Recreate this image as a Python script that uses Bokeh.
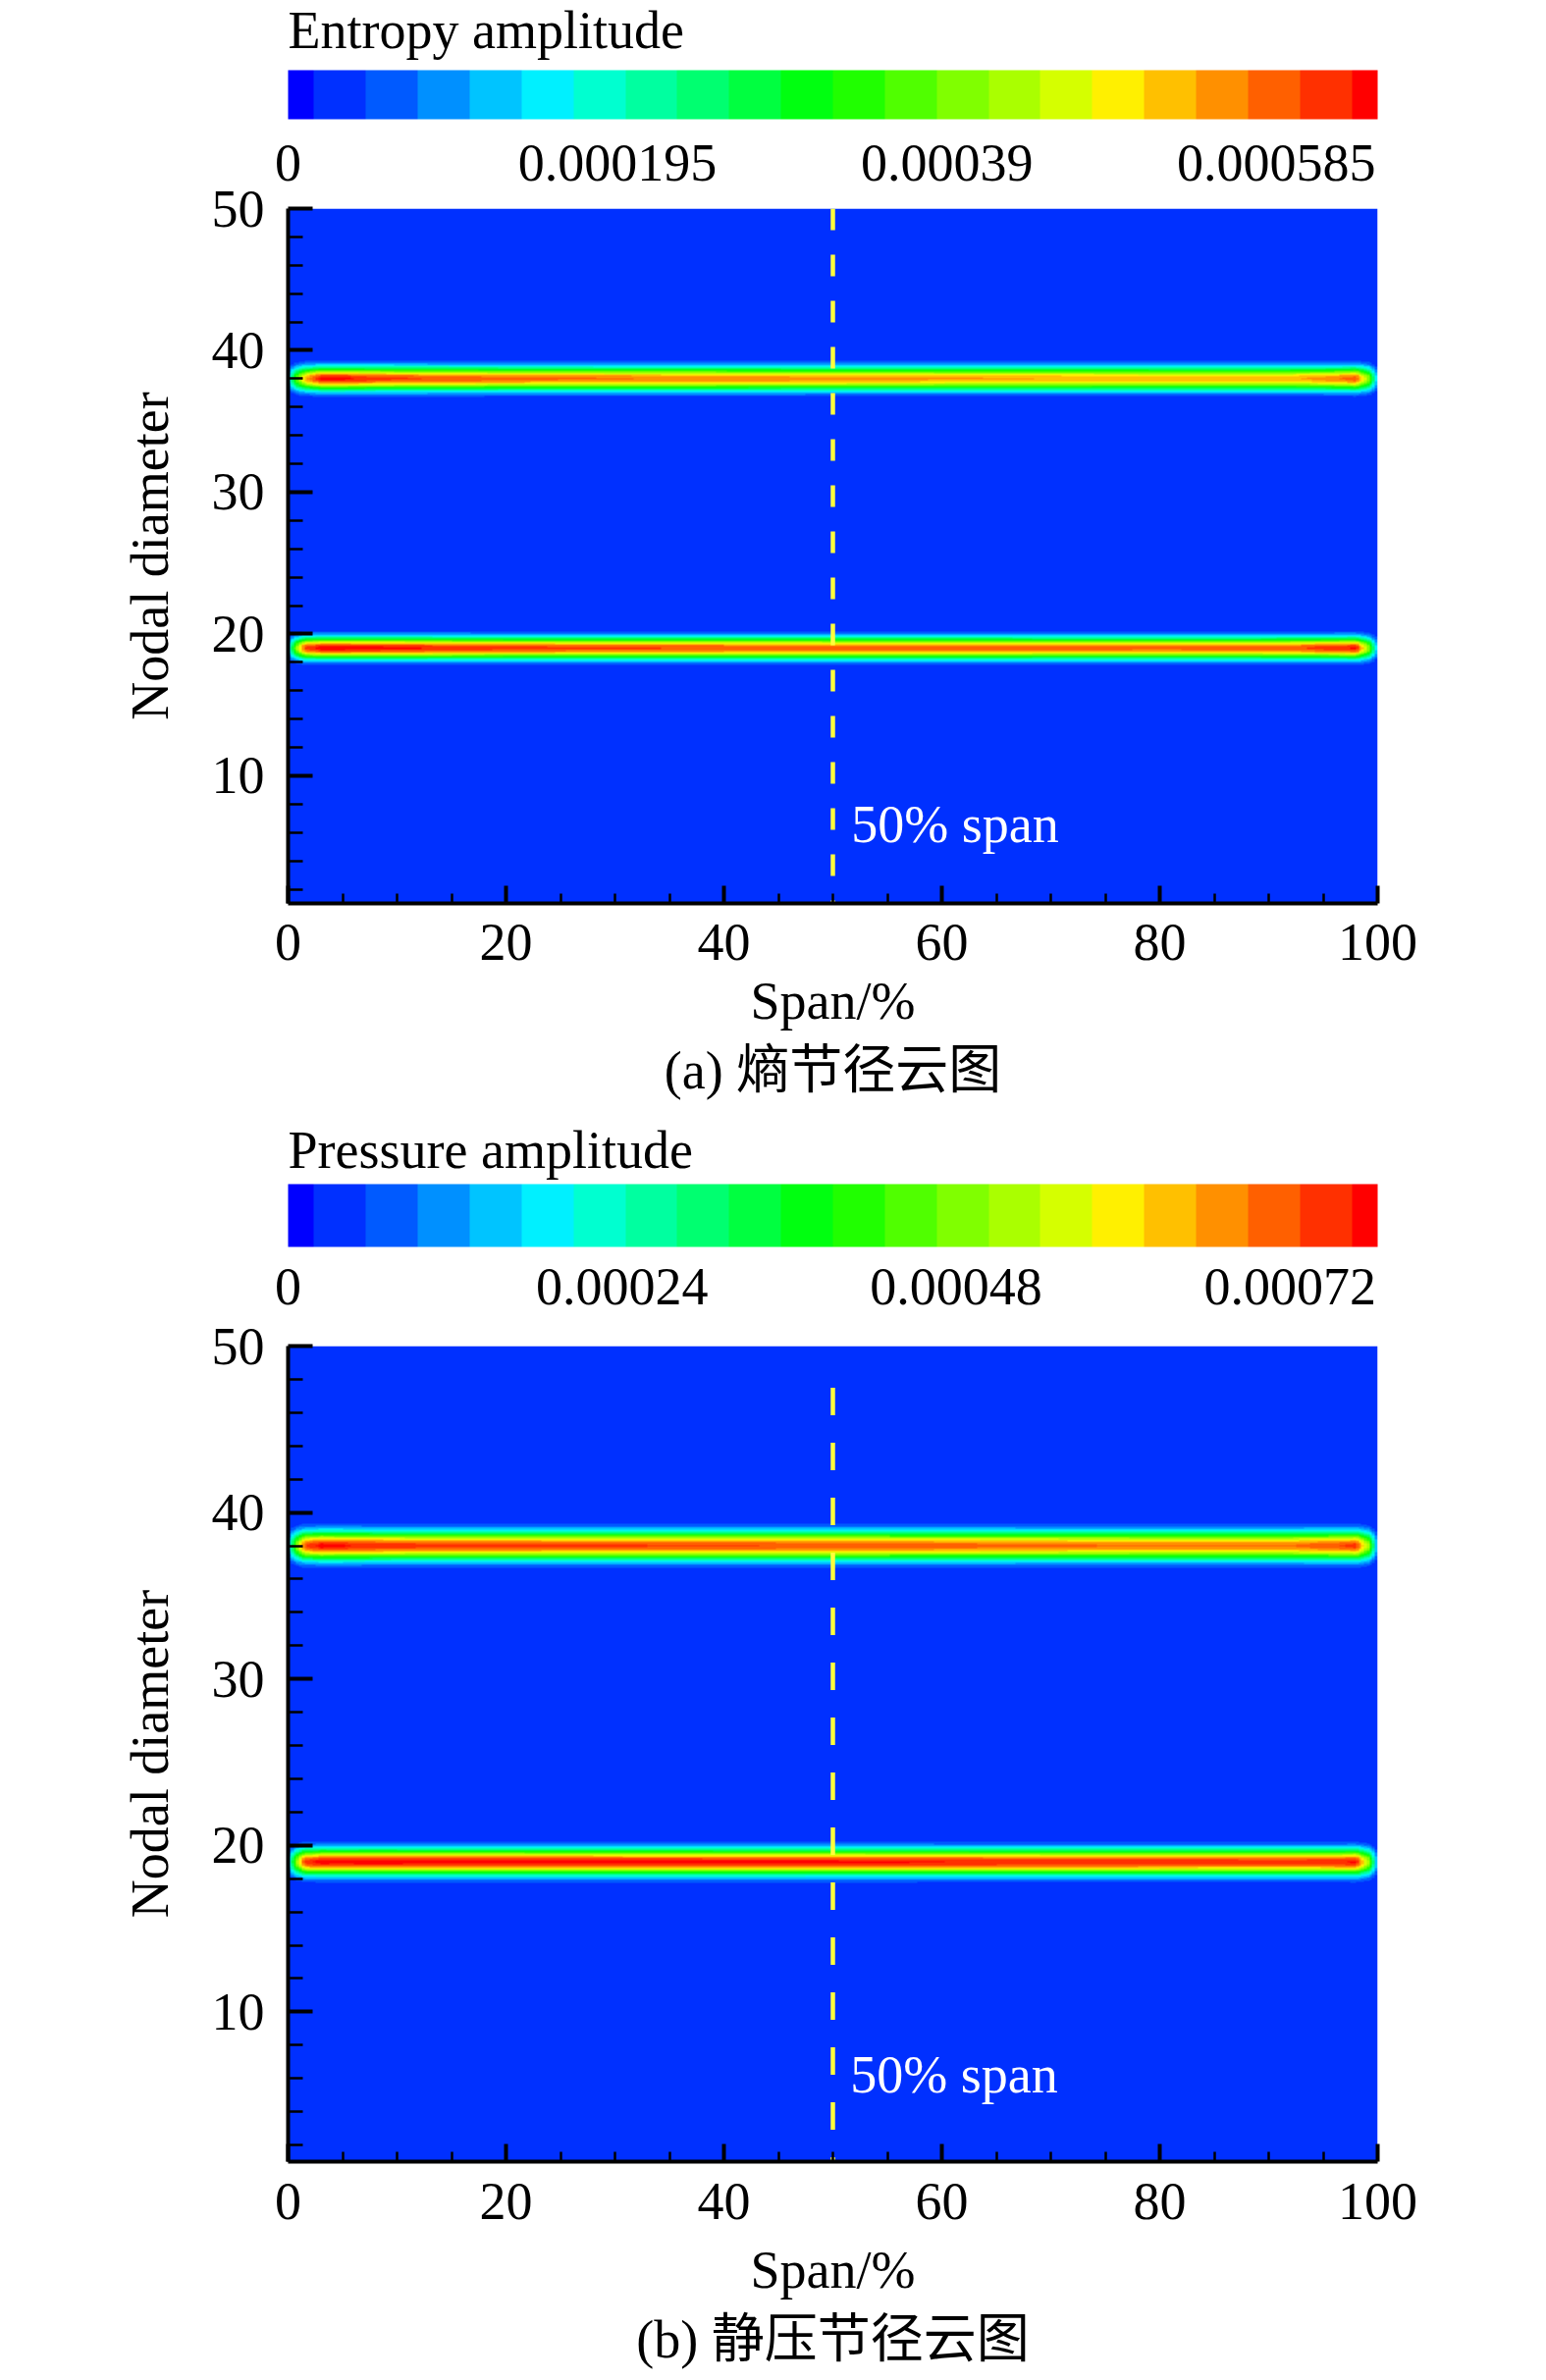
import numpy as np
from bokeh.plotting import figure
from bokeh.models import (LinearColorMapper, ColorBar, FixedTicker,
                          CustomJSTickFormatter, Title, Label)
from bokeh.layouts import column
from bokeh.embed import file_html
from bokeh.resources import INLINE

FONT = "Liberation Serif"
CJK_FONT = "Liberation Serif, Noto Sans CJK SC"
FS = "54px"

# ---------------- data ----------------
span_ticks = [0, 20, 40, 60, 80, 100]
span_minor = [5, 10, 15, 25, 30, 35, 45, 50, 55, 65, 70, 75, 85, 90, 95]
nd_ticks = [10, 20, 30, 40, 50]
nd_minor = [2, 4, 6, 8, 12, 14, 16, 18, 22, 24, 26, 28, 32, 34, 36, 38, 42, 44, 46, 48]

# Tecplot-like 22 colour contour palette
palette22 = ["#0000FF", "#0030FF", "#005AFF", "#0090FF", "#00C4FF", "#00F0FF",
             "#00FFD0", "#00FFA0", "#00FF70", "#00FF40", "#00FF10", "#20FF00",
             "#50FF00", "#80FF00", "#AAFF00", "#D5FF00", "#FFF000", "#FFC000",
             "#FF9000", "#FF6000", "#FF3000", "#FF0000"]

# span positions where the band core amplitude was read
profile_span = [0.0, 0.5, 1.5, 3, 5, 8, 12, 20, 35, 50, 65, 80, 92, 96, 98, 99.2, 100]

# (a) entropy amplitude
a_title = "Entropy amplitude"
a_cmax = 0.000645
a_cticks = [0, 0.000195, 0.00039, 0.000585]
a_band_nd = [38, 19]
a_band_sigma = [0.56, 0.52]
a_peak_38 = [0.00012, 0.0003, 0.00052, 0.00064, 0.00064, 0.00061, 0.0006, 0.00058,
             0.000565, 0.00055, 0.00054, 0.00053, 0.00053, 0.00056, 0.00059, 0.0004, 0.0001]
a_peak_19 = [0.00012, 0.00032, 0.0006, 0.000645, 0.000645, 0.00064, 0.000632, 0.00061,
             0.0006, 0.00059, 0.00059, 0.00058, 0.00059, 0.00062, 0.000635, 0.0004, 0.0001]
a_caption = "(a) 熵节径云图"

# (b) pressure amplitude
b_title = "Pressure amplitude"
b_cmax = 0.000783
b_cticks = [0, 0.00024, 0.00048, 0.00072]
b_band_nd = [38, 19]
b_band_sigma = [0.58, 0.53]
b_peak_38 = [0.00014, 0.00038, 0.00072, 0.00078, 0.00077, 0.00075, 0.00074, 0.00074,
             0.00073, 0.000725, 0.0007, 0.00069, 0.00069, 0.00072, 0.000745, 0.0005, 0.0001]
b_peak_19 = [0.00014, 0.00038, 0.00074, 0.000783, 0.00078, 0.000785, 0.00078, 0.00078,
             0.000775, 0.00077, 0.000762, 0.000755, 0.00075, 0.000755, 0.00077, 0.0005, 0.0001]
b_caption = "(b) 静压节径云图"

span_line = 50          # "50% span" marker
a_dash_top = 50
b_dash_top = 47.5
label_text = "50% span"
a_label_pos = (51.7, 6.6)
b_label_pos = (51.6, 6.2)


def tecplot_palette(cols):
    # end bands are half width like a Tecplot legend
    return [cols[0]] + [c for c in cols[1:-1] for _ in (0, 1)] + [cols[-1]]


def build_field(cmax, nds, sigmas, peaks, nx=400, ny=1960):
    xc = (np.arange(nx) + 0.5) * 100.0 / nx
    yc = 1.0 + (np.arange(ny) + 0.5) * 49.0 / ny
    bg = cmax / 21.0
    f = np.zeros((ny, nx))
    for nd, s, pk in zip(nds, sigmas, peaks):
        amp = np.interp(xc, profile_span, pk)
        f = f + amp[None, :] * np.exp(-0.5 * ((yc[:, None] - nd) / s) ** 2)
    f = np.maximum(f, bg)
    return np.clip(f, 0, cmax).astype(np.float32)


def make_panel(title, cmax, cticks, nds, sigmas, peaks, caption, frame_h,
               top_border, bottom_border, bar_h, title_sd, label_sd, cb_y,
               xlab_sd, xaxlab_sd, cap_sd, dash_top, dash, lab_pos):
    mapper = LinearColorMapper(palette=tecplot_palette(palette22), low=0, high=cmax)
    p = figure(frame_width=1110, frame_height=frame_h, x_range=(0, 100), y_range=(1, 50),
               output_backend="svg", toolbar_location=None,
               min_border_left=293, min_border_right=70,
               min_border_top=top_border, min_border_bottom=bottom_border)
    p.image(image=[build_field(cmax, nds, sigmas, peaks)], x=0, y=1, dw=100, dh=49,
            color_mapper=mapper)
    p.line(x=[span_line, span_line], y=[dash_top, 1], line_color="#FFFF3C",
           line_width=4.5, line_dash=dash)
    p.add_layout(Label(x=lab_pos[0], y=lab_pos[1], text=label_text, text_color="white",
                       text_font=FONT, text_font_size=FS, text_baseline="alphabetic"))

    p.grid.visible = False
    p.outline_line_color = None
    p.xaxis.ticker = FixedTicker(ticks=span_ticks, minor_ticks=span_minor)
    p.yaxis.ticker = FixedTicker(ticks=nd_ticks, minor_ticks=nd_minor)
    for ax in (p.xaxis[0], p.yaxis[0]):
        ax.axis_line_width = 4
        ax.axis_line_color = "black"
        ax.major_tick_line_width = 4
        ax.minor_tick_line_width = 2.5
        ax.major_tick_out = 0
        ax.minor_tick_out = 0
        ax.major_label_text_font = FONT
        ax.major_label_text_font_size = FS
        ax.major_label_text_color = "black"
        ax.axis_label_text_font = FONT
        ax.axis_label_text_font_size = FS
        ax.axis_label_text_font_style = "normal"
        ax.axis_label_text_color = "black"
    p.yaxis.major_tick_in = 25
    p.yaxis.minor_tick_in = 15
    p.xaxis.major_tick_in = 18
    p.xaxis.minor_tick_in = 10
    p.yaxis.major_label_standoff = 24
    p.yaxis.axis_label_standoff = 30
    p.xaxis.major_label_standoff = xlab_sd
    p.xaxis.axis_label_standoff = xaxlab_sd
    p.xaxis.axis_label = "Span/%"
    p.yaxis.axis_label = "Nodal diameter"

    cb = ColorBar(color_mapper=mapper, orientation="horizontal", location=(0, cb_y),
                  ticker=FixedTicker(ticks=cticks),
                  formatter=CustomJSTickFormatter(code="return tick.toString()"),
                  title=title, title_text_font=FONT, title_text_font_size=FS,
                  title_text_font_style="normal", title_text_color="black",
                  title_standoff=title_sd,
                  major_label_text_font=FONT, major_label_text_font_size=FS,
                  major_label_text_color="black", label_standoff=label_sd,
                  major_tick_line_color=None, minor_tick_line_color=None,
                  bar_line_color=None, border_line_color=None,
                  background_fill_alpha=0,
                  width=1110, height=bar_h, padding=0, margin=0)
    p.add_layout(cb, "center")
    p.add_layout(Title(text=caption, align="center", text_font=CJK_FONT,
                       text_font_size=FS, text_font_style="normal",
                       text_color="black", standoff=cap_sd), "below")
    return p


pa = make_panel(a_title, a_cmax, a_cticks, a_band_nd, a_band_sigma,
                [a_peak_38, a_peak_19], a_caption, 708, 212, 221, 50, 21, 26, 734,
                21, 9, 12, a_dash_top, "22 25", a_label_pos)
pb = make_panel(b_title, b_cmax, b_cticks, b_band_nd, b_band_sigma,
                [b_peak_38, b_peak_19], b_caption, 831, 230, 200, 64, 9, 22, 871,
                22, 19, 12, b_dash_top, "28 28", b_label_pos)

layout = column(pa, pb, spacing=0)
open("out.html", "w").write(file_html(layout, INLINE))
